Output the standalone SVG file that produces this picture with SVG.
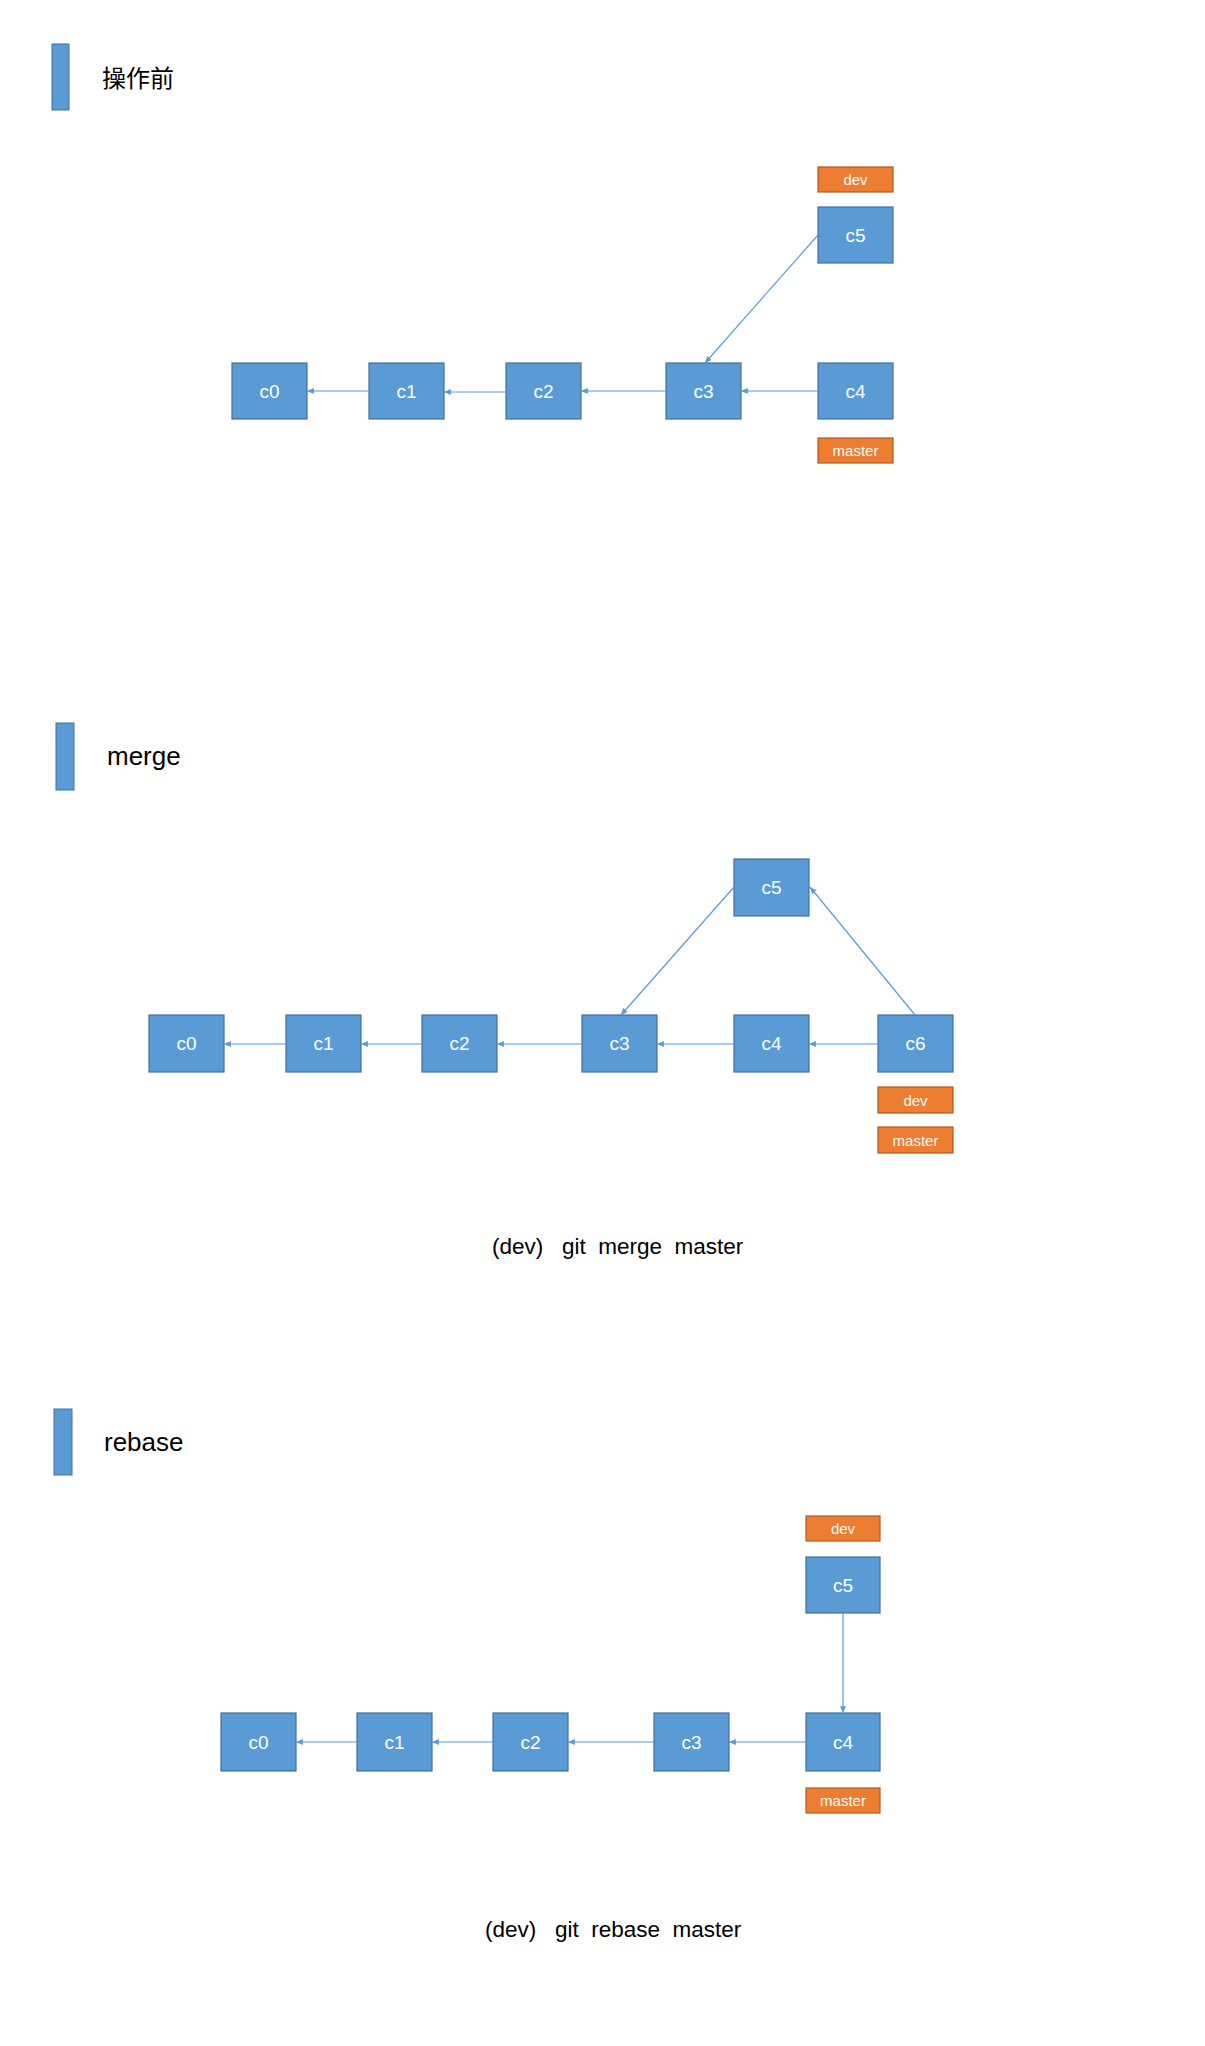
<svg xmlns="http://www.w3.org/2000/svg" width="1205" height="2046" viewBox="0 0 1205 2046">
<style>
.bg{fill:#ffffff}
.bar{fill:#5B9BD5;stroke:#41719C;stroke-width:1}
.node{fill:#5B9BD5;stroke:#41719C;stroke-width:1.2}
.ref{fill:#ED7D31;stroke:#AE5A21;stroke-width:1.2}
.nt{font-family:"Liberation Sans",Arial,sans-serif;font-size:19px;fill:#ffffff;text-anchor:middle;dominant-baseline:central}
.rt{font-family:"Liberation Sans",Arial,sans-serif;font-size:15px;fill:#ffffff;text-anchor:middle;dominant-baseline:central}
.title{font-family:"Liberation Sans","Noto Sans CJK SC",sans-serif;font-size:26px;fill:#000000}
.cn{font-family:"Noto Sans CJK SC","Noto Sans CJK JP",sans-serif;font-size:24px;fill:#000000}
.cap{font-family:"Liberation Sans",Arial,sans-serif;font-size:22.5px;fill:#000000;white-space:pre}
.edge{stroke:#5B9BD5;stroke-width:1.2;fill:none;marker-end:url(#ah)}
</style>
<defs>
<marker id="ah" viewBox="0 0 8 7" refX="8" refY="3.5" markerWidth="7" markerHeight="6" markerUnits="userSpaceOnUse" orient="auto">
<path d="M0,0 L8,3.5 L0,7 z" fill="#5B9BD5"/>
</marker>
</defs>
<rect class="bg" x="0" y="0" width="1205" height="2046"/>

<!-- Section 1: before -->
<g id="section1-title">
<rect class="bar" x="52" y="44" width="17" height="66"/>
<text class="cn" x="102" y="87">操作前</text>
</g>
<g id="s1-c0"><rect class="node" x="232" y="363" width="75" height="56"/><text class="nt" x="269.5" y="391">c0</text></g>
<g id="s1-c1"><rect class="node" x="369" y="363" width="75" height="56"/><text class="nt" x="406.5" y="391">c1</text></g>
<g id="s1-c2"><rect class="node" x="506" y="363" width="75" height="56"/><text class="nt" x="543.5" y="391">c2</text></g>
<g id="s1-c3"><rect class="node" x="666" y="363" width="75" height="56"/><text class="nt" x="703.5" y="391">c3</text></g>
<g id="s1-c4"><rect class="node" x="818" y="363" width="75" height="56"/><text class="nt" x="855.5" y="391">c4</text></g>
<g id="s1-c5"><rect class="node" x="818" y="207" width="75" height="56"/><text class="nt" x="855.5" y="235">c5</text></g>
<g id="s1-dev"><rect class="ref" x="818" y="167" width="75" height="25"/><text class="rt" x="855.5" y="179.5">dev</text></g>
<g id="s1-master"><rect class="ref" x="818" y="438" width="75" height="25"/><text class="rt" x="855.5" y="450.5">master</text></g>

<!-- Section 2: merge -->
<g id="section2-title">
<rect class="bar" x="56" y="723" width="18" height="67"/>
<text class="title" x="107" y="765">merge</text>
</g>
<g id="s2-c0"><rect class="node" x="149" y="1015" width="75" height="57"/><text class="nt" x="186.5" y="1043.5">c0</text></g>
<g id="s2-c1"><rect class="node" x="286" y="1015" width="75" height="57"/><text class="nt" x="323.5" y="1043.5">c1</text></g>
<g id="s2-c2"><rect class="node" x="422" y="1015" width="75" height="57"/><text class="nt" x="459.5" y="1043.5">c2</text></g>
<g id="s2-c3"><rect class="node" x="582" y="1015" width="75" height="57"/><text class="nt" x="619.5" y="1043.5">c3</text></g>
<g id="s2-c4"><rect class="node" x="734" y="1015" width="75" height="57"/><text class="nt" x="771.5" y="1043.5">c4</text></g>
<g id="s2-c6"><rect class="node" x="878" y="1015" width="75" height="57"/><text class="nt" x="915.5" y="1043.5">c6</text></g>
<g id="s2-c5"><rect class="node" x="734" y="859" width="75" height="57"/><text class="nt" x="771.5" y="887.5">c5</text></g>
<g id="s2-dev"><rect class="ref" x="878" y="1087" width="75" height="26"/><text class="rt" x="915.5" y="1100">dev</text></g>
<g id="s2-master"><rect class="ref" x="878" y="1127" width="75" height="26"/><text class="rt" x="915.5" y="1140">master</text></g>
<g id="s2-caption"><text class="cap" x="492" y="1254" xml:space="preserve">(dev)   git  merge  master</text></g>

<!-- Section 3: rebase -->
<g id="section3-title">
<rect class="bar" x="54" y="1409" width="18" height="66"/>
<text class="title" x="104" y="1451">rebase</text>
</g>
<g id="s3-c0"><rect class="node" x="221" y="1713" width="75" height="58"/><text class="nt" x="258.5" y="1742">c0</text></g>
<g id="s3-c1"><rect class="node" x="357" y="1713" width="75" height="58"/><text class="nt" x="394.5" y="1742">c1</text></g>
<g id="s3-c2"><rect class="node" x="493" y="1713" width="75" height="58"/><text class="nt" x="530.5" y="1742">c2</text></g>
<g id="s3-c3"><rect class="node" x="654" y="1713" width="75" height="58"/><text class="nt" x="691.5" y="1742">c3</text></g>
<g id="s3-c4"><rect class="node" x="806" y="1713" width="74" height="58"/><text class="nt" x="843" y="1742">c4</text></g>
<g id="s3-c5"><rect class="node" x="806" y="1557" width="74" height="56"/><text class="nt" x="843" y="1585">c5</text></g>
<g id="s3-dev"><rect class="ref" x="806" y="1516" width="74" height="25"/><text class="rt" x="843" y="1528.5">dev</text></g>
<g id="s3-master"><rect class="ref" x="806" y="1788" width="74" height="25"/><text class="rt" x="843" y="1800.5">master</text></g>
<g id="s3-caption"><text class="cap" x="485" y="1937" xml:space="preserve">(dev)   git  rebase  master</text></g>

<g id="connectors">
<line class="edge" x1="369" y1="391" x2="307" y2="391"/>
<line class="edge" x1="506" y1="392" x2="444" y2="392"/>
<line class="edge" x1="666" y1="391" x2="581" y2="391"/>
<line class="edge" x1="818" y1="391" x2="741" y2="391"/>
<line class="edge" x1="818" y1="235" x2="705" y2="363"/>

<line class="edge" x1="286" y1="1044" x2="224" y2="1044"/>
<line class="edge" x1="422" y1="1044" x2="361" y2="1044"/>
<line class="edge" x1="582" y1="1044" x2="497" y2="1044"/>
<line class="edge" x1="734" y1="1044" x2="657" y2="1044"/>
<line class="edge" x1="878" y1="1044" x2="809" y2="1044"/>
<line class="edge" x1="734" y1="887" x2="621" y2="1015"/>
<line class="edge" x1="915" y1="1015" x2="810" y2="887"/>

<line class="edge" x1="357" y1="1742" x2="296" y2="1742"/>
<line class="edge" x1="493" y1="1742" x2="432" y2="1742"/>
<line class="edge" x1="654" y1="1742" x2="568" y2="1742"/>
<line class="edge" x1="806" y1="1742" x2="729" y2="1742"/>
<line class="edge" x1="843" y1="1613" x2="843" y2="1713"/>
</g>
</svg>
